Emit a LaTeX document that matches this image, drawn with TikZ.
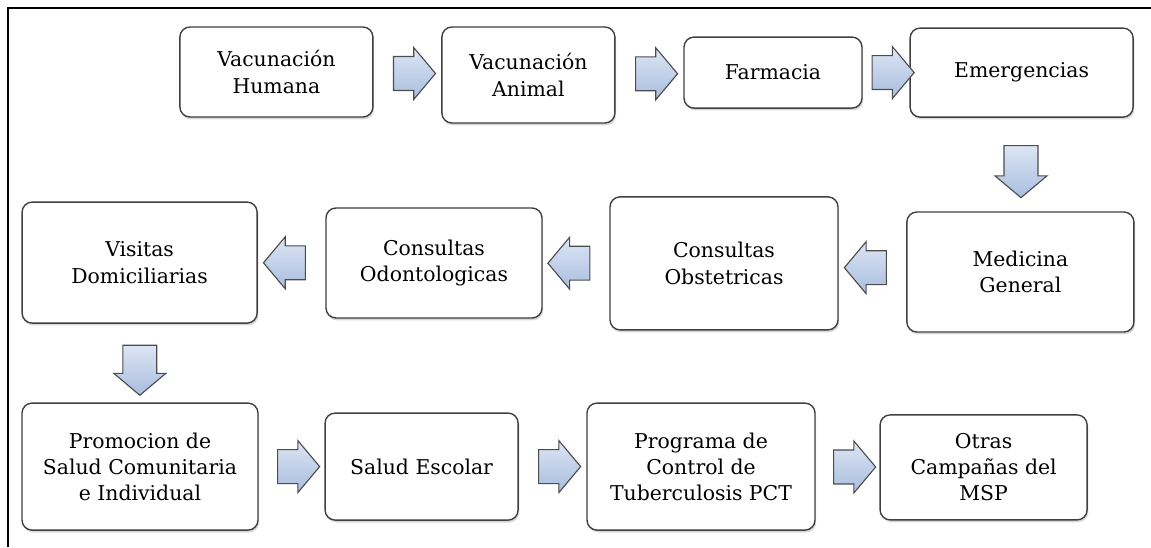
\documentclass[tikz,border=0pt]{standalone}
\usepackage{fontspec}
\setmainfont{DejaVu Serif}
\usepackage{tikz}
\usetikzlibrary{calc,positioning,shapes.arrows,shadows}
\definecolor{azulclaro}{HTML}{DCE6F4}
\definecolor{azulmedio}{HTML}{A9BDDF}
\tikzset{%
	caja/.style    = {draw=black!75, line width=1pt, rounded corners=0.25cm, fill=white, align=center, font=\fontsize{14.5}{18.6}\selectfont, drop shadow={shadow xshift=0.03cm, shadow yshift=-0.06cm, opacity=0.3}},
	flecha/.style  = {single arrow, draw=black!70, line width=0.8pt, top color=azulclaro, bottom color=azulmedio, inner xsep=0pt, inner ysep=0.41cm, single arrow head extend=0.225cm, single arrow tip angle=100, minimum height=1.05cm},
	flechaD/.style = {flecha, rotate=-90, minimum height=1.3cm},
	flechaL/.style = {flecha, rotate=180},
}

\begin{document}
\begin{tikzpicture}
	\useasboundingbox (0,0) rectangle (28.775,13.675);
	\draw[line width=1.4pt] (0.2,0) -- (0.2,13.475) -- (28.775,13.475);
	% fila superior
	\node[caja, minimum width=4.825cm, minimum height=2.25cm] (hum) at (6.91,11.875) {Vacunación\\Humana};
	\node[caja, minimum width=4.325cm, minimum height=2.4cm] (ani) at (13.21,11.8) {Vacunación\\Animal};
	\node[caja, minimum width=4.45cm, minimum height=1.775cm] (far) at (19.325,11.86) {Farmacia};
	\node[caja, minimum width=5.575cm, minimum height=2.225cm] (eme) at (25.54,11.86) {Emergencias};
	% fila del medio
	\node[caja, minimum width=5.675cm, minimum height=3cm] (med) at (25.51,6.875) {Medicina\\General};
	\node[caja, minimum width=5.7cm, minimum height=3.325cm] (obs) at (18.1,7.09) {Consultas\\Obstetricas};
	\node[caja, minimum width=5.4cm, minimum height=2.75cm] (odo) at (10.85,7.1) {Consultas\\Odontologicas};
	\node[caja, minimum width=5.875cm, minimum height=3.025cm] (vis) at (3.49,7.11) {Visitas\\Domiciliarias};
	% fila inferior
	\node[caja, minimum width=5.9cm, minimum height=3.175cm] (pro) at (3.5,2.01) {Promocion de\\Salud Comunitaria\\e Individual};
	\node[caja, minimum width=4.825cm, minimum height=2.675cm] (esc) at (10.54,2.01) {Salud Escolar};
	\node[caja, minimum width=5.7cm, minimum height=3.175cm] (pct) at (17.525,2.01) {Programa de\\Control de\\Tuberculosis PCT};
	\node[caja, minimum width=5.175cm, minimum height=2.625cm] (otr) at (24.59,1.99) {Otras\\Campañas del\\MSP};
	% flechas
	\path (hum.east) -- (ani.west) node[midway, flecha] (f1) {};
	\path (ani.east) -- (far.west) node[midway, flecha] (f2) {};
	\path (far.east) -- (eme.west) node[midway, flecha] (f3) {};
	\path (eme.south) -- (med.north) node[midway, flechaD] (f4) {};
	\path (med.west) -- (obs.east) node[midway, flechaL] (f5) {};
	\path (obs.west) -- (odo.east) node[midway, flechaL] (f6) {};
	\path (odo.west) -- (vis.east) node[midway, flechaL] (f7) {};
	\path (vis.south) -- (pro.north) node[midway, flechaD, minimum height=1.25cm] (f8) {};
	\path (pro.east) -- (esc.west) node[midway, flecha] (f9) {};
	\path (esc.east) -- (pct.west) node[midway, flecha] (f10) {};
	\path (pct.east) -- (otr.west) node[midway, flecha] (f11) {};
\end{tikzpicture}
\end{document}
